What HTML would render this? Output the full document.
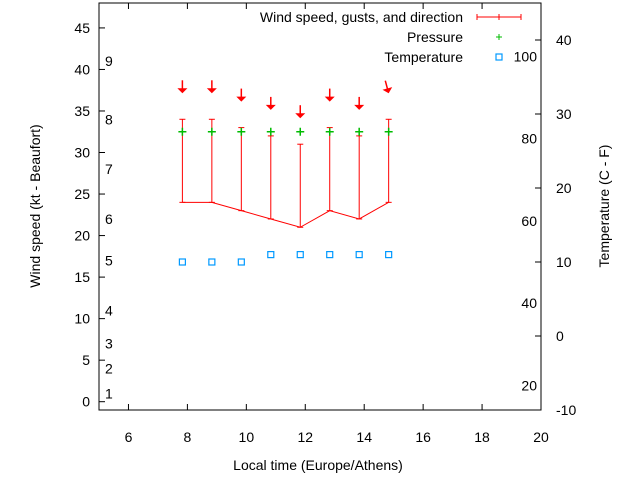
<!DOCTYPE html>
<html><head><meta charset="utf-8"><style>
body{margin:0;background:#fff;}
svg{font-family:"Liberation Sans",sans-serif;font-size:14px;}
</style></head><body>
<svg id="c" width="640" height="480" xmlns="http://www.w3.org/2000/svg"></svg>
<script>
const times=[7.83,8.83,9.83,10.83,11.83,12.83,13.83,14.83];
const wind=[24,24,23,22,21,23,22,24];
const gusts=[34,34,33,32,31,33,32,34];
const pressure=[32.5,32.5,32.5,32.5,32.5,32.5,32.5,32.5];
const temperature=[10,10,10,11,11,11,11,11];
const dirAngle=[0,0,0,0,0,0,0,-15];
const xTicks=[6,8,10,12,14,16,18,20];
const yTicks=[0,5,10,15,20,25,30,35,40,45];
const tTicks=[-10,0,10,20,30,40];
const beaufortLabels=["1","2","3","4","5","6","7","8","9"];
const beaufortKt=[1,4,7,11,17,22,28,34,41];
const fLabels=["20","40","60","80","100"];
const fValues=[20,40,60,80,100];

const L=99,R=541,T=3,B=410;
const X=v=>L+(v-5)/15*(R-L);
const Y=v=>B-(v+1)/49*(B-T);
const YT=v=>B-(v+10)/50*(B-40);
const svg=document.getElementById('c');
function mk(tag,attrs,txt){const e=document.createElementNS('http://www.w3.org/2000/svg',tag);for(const k in attrs)e.setAttribute(k,attrs[k]);if(txt!==undefined)e.textContent=txt;svg.appendChild(e);return e;}
let e;
e=mk('rect',{x:L,y:T,width:R-L,height:B-T,fill:'none',stroke:'#000','stroke-width':1});


xTicks.forEach(t=>{const x=X(t);
 e=mk('line',{x1:x,x2:x,y1:B,y2:B-6,stroke:'#000'});
 
 
 e=mk('line',{x1:x,x2:x,y1:T,y2:T+6,stroke:'#000'});
 
 
 e=mk('text',{x:x,y:B+32,'text-anchor':'middle'},String(t));
 
 
});
yTicks.forEach(t=>{const y=Y(t);
 e=mk('line',{x1:L,x2:L+6,y1:y,y2:y,stroke:'#000'});
 
 
 e=mk('text',{x:L-9,y:y+5,'text-anchor':'end'},String(t));
 
 
});
tTicks.forEach(t=>{const y=YT(t);
 e=mk('line',{x1:R,x2:R-6,y1:y,y2:y,stroke:'#000'});
 
 
 e=mk('text',{x:R+15,y:y+5,'text-anchor':'start'},String(t));
 
 
});
beaufortLabels.forEach((s,i)=>{
 e=mk('text',{x:105,y:Y(beaufortKt[i])+5},s);
 
 
});
fLabels.forEach((s,i)=>{const c=(fValues[i]-32)*5/9;
 e=mk('text',{x:537,y:YT(c)+5,'text-anchor':'end'},s);
 
 
});
e=mk('text',{x:318,y:470,'text-anchor':'middle'},'Local time (Europe/Athens)');


e=mk('text',{x:0,y:0,'text-anchor':'middle',transform:'translate(40,206) rotate(-90)'},'Wind speed (kt - Beaufort)');


e=mk('text',{x:0,y:0,'text-anchor':'middle',transform:'translate(609,206) rotate(-90)'},'Temperature (C - F)');


e=mk('polyline',{points:times.map((t,i)=>X(t)+','+Y(wind[i])).join(' '),fill:'none',stroke:'#f00'});


times.forEach((t,i)=>{const x=X(t);
 e=mk('line',{x1:x,x2:x,y1:Y(wind[i]),y2:Y(gusts[i]),stroke:'#f00'});
 
 
 e=mk('line',{x1:x-3,x2:x+3,y1:Y(gusts[i]),y2:Y(gusts[i]),stroke:'#f00'});
 
 
 e=mk('line',{x1:x-3,x2:x+3,y1:Y(wind[i]),y2:Y(wind[i]),stroke:'#f00'});
 
 
 const ty=Y(gusts[i])-26;
 e=mk('g',{transform:`rotate(${dirAngle[i]},${x},${ty})`});
 
 
 const ln=document.createElementNS('http://www.w3.org/2000/svg','line');
 ln.setAttribute('x1',x);ln.setAttribute('x2',x);ln.setAttribute('y1',ty-13);ln.setAttribute('y2',ty-3);ln.setAttribute('stroke','#f00');ln.setAttribute('stroke-width','1.5');e.appendChild(ln);
 const pg=document.createElementNS('http://www.w3.org/2000/svg','polygon');
 pg.setAttribute('points',`${x-5},${ty-5} ${x+5},${ty-5} ${x},${ty}`);pg.setAttribute('fill','#f00');e.appendChild(pg);
 const py=Y(pressure[i]);
 e=mk('path',{d:`M${x-4},${py}H${x+4}M${x},${py-4}V${py+4}`,stroke:'#0b0','stroke-width':1.5});
 
 
 const qy=YT(temperature[i]);
 e=mk('rect',{x:x-3,y:qy-3,width:6,height:6,fill:'none',stroke:'#09f','stroke-width':1.2});
 
 
});
e=mk('text',{x:463,y:22,'text-anchor':'end'},'Wind speed, gusts, and direction');


e=mk('path',{d:'M477,17H521M477,14V20M521,14V20M499,14V20',stroke:'#f00'});


e=mk('text',{x:463,y:42,'text-anchor':'end'},'Pressure');


e=mk('path',{d:'M496,37H502M499,34V40',stroke:'#0b0'});


e=mk('text',{x:463,y:62,'text-anchor':'end'},'Temperature');


e=mk('rect',{x:496,y:54,width:6,height:6,fill:'none',stroke:'#09f','stroke-width':1.2});


</script>
</body></html>
